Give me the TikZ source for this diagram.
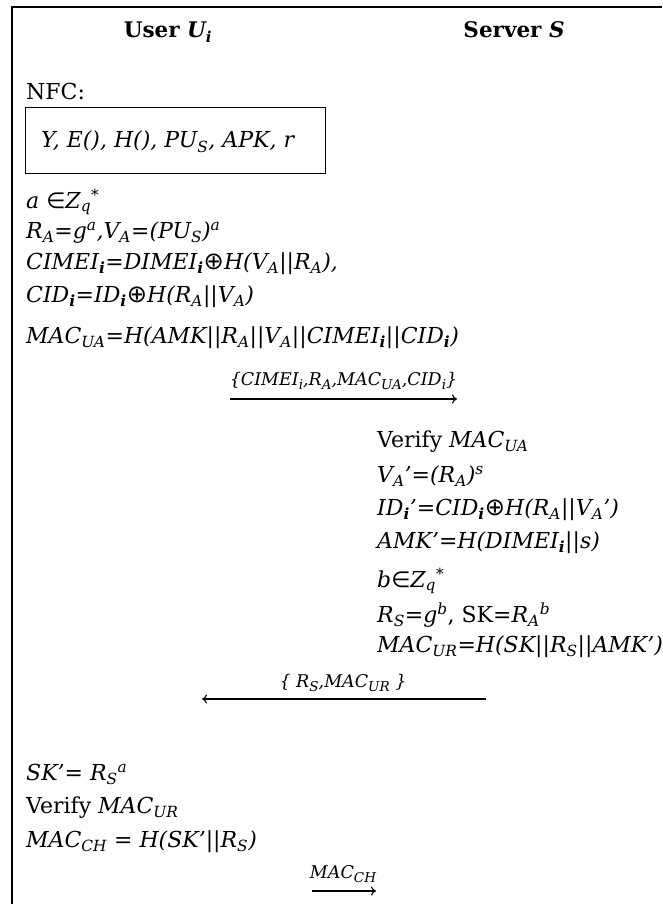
\documentclass[tikz,border=0pt]{standalone}
\usepackage{fontspec}
\setmainfont{DejaVu Serif}
\newfontfamily\symf{DejaVu Sans}
\usetikzlibrary{arrows.meta}
\newcommand{\sbx}[1]{\textsubscript{#1}}
\newcommand{\spx}[1]{\textsuperscript{#1}}
\newcommand{\bsi}{\textsubscript{\textbf{i}}}
\newcommand{\opl}{{\upshape\symf\scalebox{1.1}{⊕}}}
\newcommand{\ein}{{\upshape\symf ∈}}
\newcommand{\lsb}[1]{\raisebox{-0.28em}{\fontsize{13.5}{16}\selectfont #1}}
\tikzset{
  txt/.style={anchor=base west, inner sep=0pt, font=\fontsize{22}{26}\selectfont},
  ttl/.style={anchor=base, inner sep=0pt, font=\fontsize{21.5}{25}\selectfont\bfseries},
  lbl/.style={anchor=base, inner sep=0pt, font=\fontsize{17.5}{21}\selectfont\itshape},
  msg/.style={-{To[length=5pt,width=9pt]}, line width=1.1pt},
  frame/.style={line width=1.2pt}
}
\begin{document}
\begin{tikzpicture}[x=1pt,y=-1pt]
\useasboundingbox (0,0) rectangle (662,904);
\draw[frame] (12,904) -- (12,7) -- (662,7);
% titles
\node[ttl] (user) at (168,38) {User \textit{U\sbx{i}}};
\node[ttl] (server) at (514,38) {Server \textit{S}};
% NFC
\node[txt] (nfc) at (26,100) {NFC:};
\node[draw, line width=1pt, anchor=north west, minimum width=300pt, minimum height=66pt, inner sep=0pt] (nfcbox) at (25,107) {};
\node[txt] (nfcvals) at (41,148) {\itshape Y, E(), H(), PU\sbx{S}, APK, r};
% user computations
\node[txt] (u1) at (26,208) {\itshape a \ein Z\sbx{q}\spx{*}};
\node[txt] (u2) at (26,238) {\itshape R\sbx{A}=g\spx{a},V\sbx{A}=(PU\sbx{S})\spx{a}};
\node[txt] (u3) at (26,269) {\itshape CIMEI\bsi=DIMEI\bsi\opl H(V\sbx{A}||R\sbx{A}),};
\node[txt] (u4) at (26,302) {\itshape CID\bsi=ID\bsi\opl H(R\sbx{A}||V\sbx{A})};
\node[txt] (u5) at (26,343) {\itshape MAC\sbx{UA}=H(AMK||R\sbx{A}||V\sbx{A}||CIMEI\bsi||CID\bsi)};
% message 1
\coordinate (m1s) at (230,399);
\coordinate (m1e) at (457,399);
\draw[msg] (m1s) -- (m1e);
\node[lbl] (l1) at (343.5,385) {\{CIMEI\lsb{i},R\lsb{A},MAC\lsb{UA},CID\lsb{i}\}};
% server computations
\node[txt] (s1) at (377,447) {Verify \textit{MAC\sbx{UA}}};
\node[txt] (s2) at (377,482) {\itshape V\sbx{A}’=(R\sbx{A})\spx{s}};
\node[txt] (s3) at (377,515) {\itshape ID\bsi’=CID\bsi\opl H(R\sbx{A}||V\sbx{A}’)};
\node[txt] (s4) at (377,548) {\itshape AMK’=H(DIMEI\bsi||s)};
\node[txt] (s5) at (377,587) {\itshape b\ein Z\sbx{q}\spx{*}};
\node[txt] (s6) at (377,622) {\textit{R\sbx{S}=g\spx{b}}, SK=\textit{R\sbx{A}\spx{b}}};
\node[txt] (s7) at (377,652) {\itshape MAC\sbx{UR}=H(SK||R\sbx{S}||AMK’)};
% message 2
\coordinate (m2s) at (486,699);
\coordinate (m2e) at (202,699);
\draw[msg] (m2s) -- (m2e);
\node[lbl] (l2) at (343,687) {\{ R\lsb{S},MAC\lsb{UR} \}};
% user final
\node[txt] (u6) at (26,780) {\itshape SK’= R\sbx{S}\spx{a}};
\node[txt] (u7) at (26,813) {Verify \textit{MAC\sbx{UR}}};
\node[txt] (u8) at (26,847) {\itshape MAC\sbx{CH} = H(SK’||R\sbx{S})};
% message 3
\coordinate (m3s) at (312,891);
\coordinate (m3e) at (376,891);
\draw[msg] (m3s) -- (m3e);
\node[lbl] (l3) at (343,878) {MAC\lsb{CH}};
\end{tikzpicture}
\end{document}
